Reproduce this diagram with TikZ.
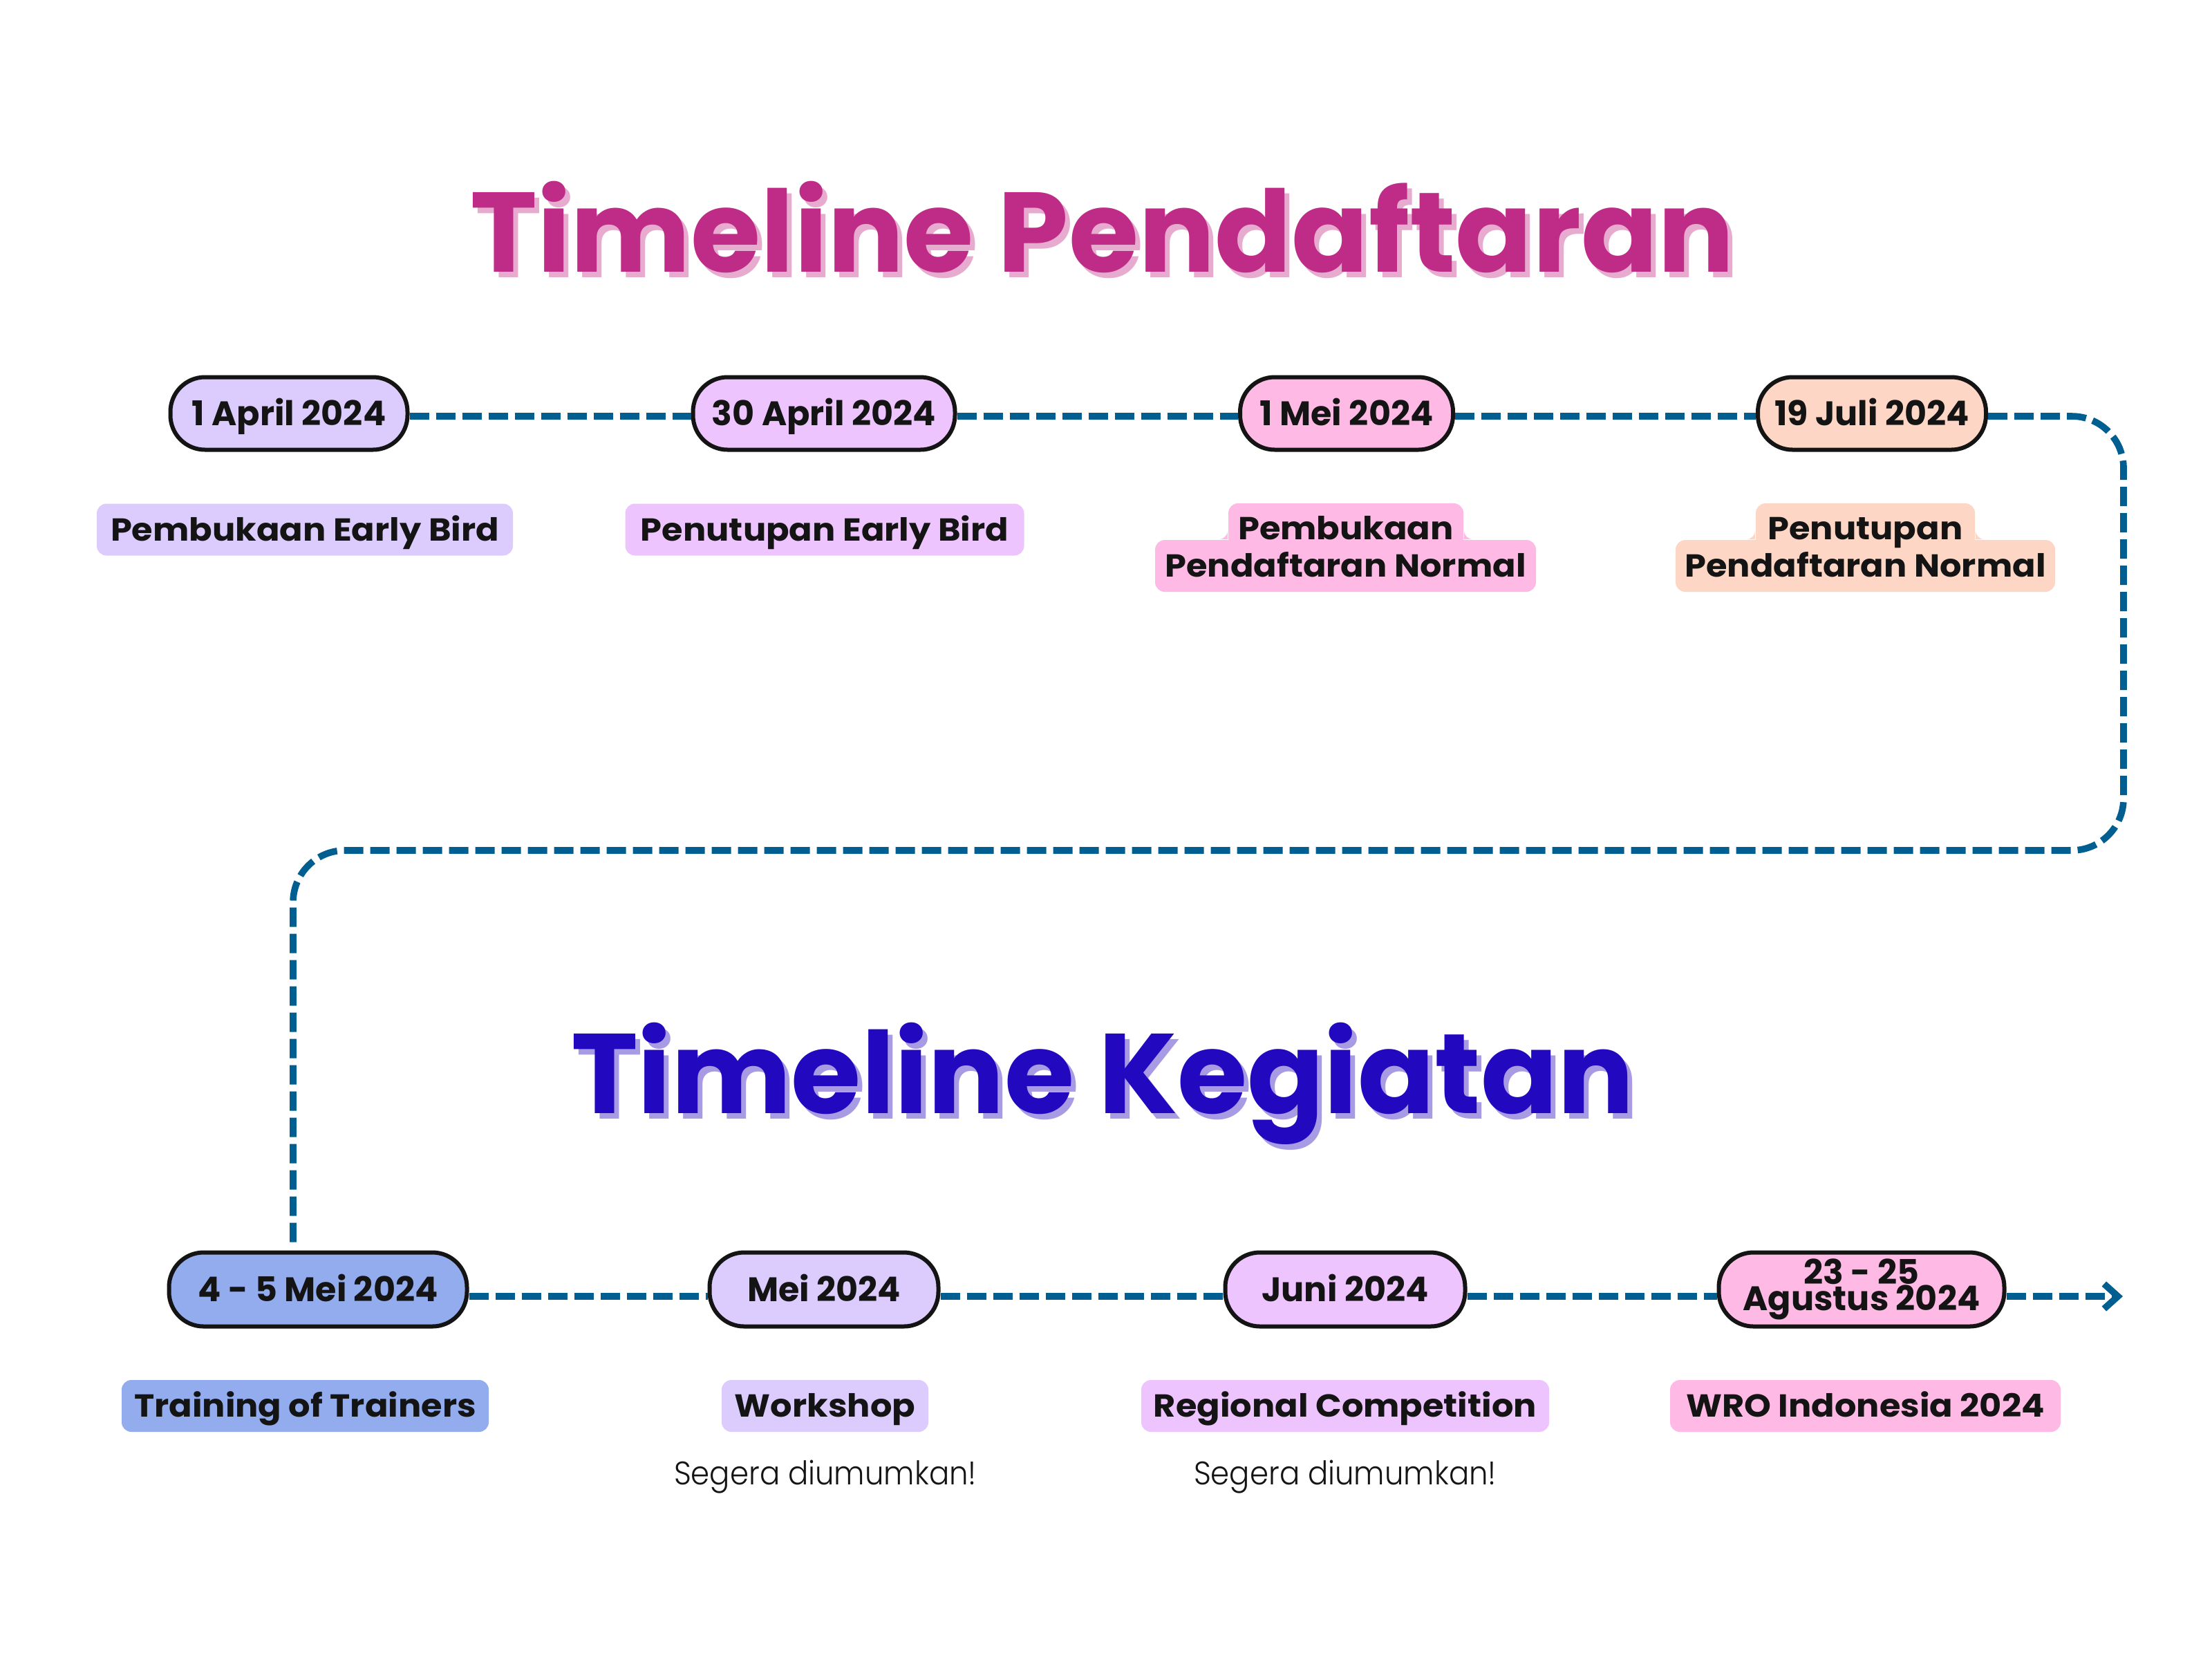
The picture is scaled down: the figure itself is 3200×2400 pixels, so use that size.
\documentclass[tikz,border=0pt]{standalone}
\usepackage{graphicx}
\usepackage{fontspec}
\setmainfont{Poppins}
\IfFontExistsTF{Poppins Light}{\newfontfamily\thinfont{Poppins Light}}{\newfontfamily\thinfont{Lato}}
\usetikzlibrary{arrows.meta}
\definecolor{lineblue}{RGB}{0,94,145}
\definecolor{ink}{RGB}{20,20,20}
\definecolor{lav}{RGB}{220,203,253}
\definecolor{lilac}{RGB}{237,196,253}
\definecolor{pinkc}{RGB}{254,186,228}
\definecolor{peach}{RGB}{254,214,197}
\definecolor{bluec}{RGB}{147,172,238}
\definecolor{titlepink}{RGB}{191,44,135}
\definecolor{titlepinkshadow}{RGB}{231,171,207}
\definecolor{titleblue}{RGB}{34,8,191}
\definecolor{titleblueshadow}{RGB}{168,155,228}
\newcommand{\tagw}[1]{\scalebox{1.075}[1]{#1}}
\newcommand{\thinw}[1]{\scalebox{0.92}[1]{#1}}
\tikzset{
  datebox/.style={draw=ink, line width=1.5pt, rounded corners=12.5pt, inner sep=0pt,
    minimum height=26.25pt, font=\bfseries\fontsize{12.3pt}{12.3pt}\selectfont, text=ink,
    text height=8.6pt, text depth=0pt},
  tagbox/.style={rounded corners=3.5pt, inner sep=0pt, minimum height=18.75pt,
    font=\bfseries\fontsize{11.5pt}{11.5pt}\selectfont, text=ink,
    text height=8pt, text depth=0pt},
  tagtext/.style={inner sep=0pt, font=\bfseries\fontsize{11.5pt}{11.5pt}\selectfont, text=ink, anchor=base},
  dashline/.style={draw=lineblue, line width=2.4pt, dash pattern=on 7pt off 2.5pt},
  titletext/.style={inner sep=0pt, anchor=base, font=\bfseries\fontsize{41pt}{41pt}\selectfont},
  thintext/.style={inner sep=0pt, anchor=base, text=ink, font=\thinfont\fontsize{11.8pt}{11.8pt}\selectfont}
}
\begin{document}
\begin{tikzpicture}[x=0.25pt,y=-0.25pt]
\useasboundingbox (0,0) rectangle (3200,2400);
\fill[white] (0,0) rectangle (3200,2400);

% titles
\node[titletext, text=titlepinkshadow] (t1s) at (1602,401) {Timeline Pendaftaran};
\node[titletext, text=titlepink] (t1) at (1595,393) {Timeline Pendaftaran};
\node[titletext, text=titleblueshadow] (t2s) at (1602,1618) {Timeline Kegiatan};
\node[titletext, text=titleblue] (t2) at (1595,1610) {Timeline Kegiatan};

% top row date nodes
\node[datebox, fill=lav, minimum width=85.75pt] (d1) at (418,598) {1 April 2024};
\node[datebox, fill=lilac, minimum width=94.75pt] (d2) at (1192,598) {30 April 2024};
\node[datebox, fill=pinkc, minimum width=77pt] (d3) at (1948,598) {1 Mei 2024};
\node[datebox, fill=peach, minimum width=82.5pt] (d4) at (2708,598) {19 Juli 2024};

% bottom row date nodes
\node[datebox, fill=bluec, minimum width=107.75pt, minimum height=26.75pt] (e1) at (460,1865) {4 - 5 Mei 2024};
\node[datebox, fill=lav, minimum width=82.75pt, minimum height=26.75pt] (e2) at (1192,1865) {Mei 2024};
\node[datebox, fill=lilac, minimum width=86.75pt, minimum height=26.75pt] (e3) at (1946,1865) {Juni 2024};
\node[datebox, fill=pinkc, minimum width=103.25pt, minimum height=26.75pt, align=center,
      text height=, text depth=, font=\bfseries\fontsize{12.3pt}{9.5pt}\selectfont] (e4) at (2693,1865) {23 - 25\\Agustus 2024};

% connectors
\coordinate (cr) at (3072,1230);
\coordinate (cl) at (424,1230);
\coordinate (ve) at ([yshift=2pt]e1.north);
\coordinate (arrowend) at (3071,1875);
\draw[dashline] ([yshift=-1pt]d1.east) -- ([yshift=-1pt]d2.west);
\draw[dashline] ([yshift=-1pt]d2.east) -- ([yshift=-1pt]d3.west);
\draw[dashline] ([yshift=-1pt]d3.east) -- ([yshift=-1pt]d4.west);
\draw[dashline, rounded corners=18.75pt] ([yshift=-1pt]d4.east) -| (cr) -- (cl) -- (ve -| cl);
\draw[dashline] ([yshift=-2.5pt]e1.east) -- ([yshift=-2.5pt]e2.west);
\draw[dashline] ([yshift=-2.5pt]e2.east) -- ([yshift=-2.5pt]e3.west);
\draw[dashline] ([yshift=-2.5pt]e3.east) -- ([yshift=-2.5pt]e4.west);
\draw[dashline, -{Straight Barb[length=5pt,width=9pt]}] ([yshift=-2.5pt]e4.east) -- (arrowend);

% top labels
\node[tagbox, fill=lav, minimum width=150.5pt] (l1) at (441,766) {\tagw{Pembukaan Early Bird}};
\node[tagbox, fill=lilac, minimum width=144.25pt] (l2) at (1193,766) {\tagw{Penutupan Early Bird}};

% two-line label 3
\node[tagbox, fill=pinkc, minimum width=85pt] (l3a) at (1947,765.5) {};
\node[tagbox, fill=pinkc, minimum width=137.75pt] (l3b) at (1946.5,818.5) {};
\fill[pinkc] (l3a.south west |- l3b.north) -- ++(0,-12) .. controls +(0,5.4) and +(5.4,0) .. ++(-12,12) -- cycle;
\fill[pinkc] (l3a.south east |- l3b.north) -- ++(0,-12) .. controls +(0,5.4) and +(-5.4,0) .. ++(12,12) -- cycle;
\node[tagtext] (l3at) at (1947,780) {\tagw{Pembukaan}};
\node[tagtext] (l3bt) at (1946.5,834) {\tagw{Pendaftaran Normal}};

% two-line label 4
\node[tagbox, fill=peach, minimum width=79.25pt] (l4a) at (2698.5,765.5) {};
\node[tagbox, fill=peach, minimum width=137.25pt] (l4b) at (2698.5,818.5) {};
\fill[peach] (l4a.south west |- l4b.north) -- ++(0,-12) .. controls +(0,5.4) and +(5.4,0) .. ++(-12,12) -- cycle;
\fill[peach] (l4a.south east |- l4b.north) -- ++(0,-12) .. controls +(0,5.4) and +(-5.4,0) .. ++(12,12) -- cycle;
\node[tagtext] (l4at) at (2698.5,780) {\tagw{Penutupan}};
\node[tagtext] (l4bt) at (2698.5,834) {\tagw{Pendaftaran Normal}};

% bottom labels
\node[tagbox, fill=bluec, minimum width=132.75pt] (m1) at (441.5,2033.5) {\tagw{Training of Trainers}};
\node[tagbox, fill=lav, minimum width=74.75pt] (m2) at (1193.5,2033.5) {\tagw{Workshop}};
\node[tagbox, fill=lilac, minimum width=147.5pt] (m3) at (1946,2033.5) {\tagw{Regional Competition}};
\node[tagbox, fill=pinkc, minimum width=141.25pt] (m4) at (2698.5,2033.5) {\tagw{WRO Indonesia 2024}};

\node[thintext] (s1) at (1194,2147) {\thinw{Segera diumumkan!}};
\node[thintext] (s2) at (1946,2147) {\thinw{Segera diumumkan!}};
\end{tikzpicture}
\end{document}
